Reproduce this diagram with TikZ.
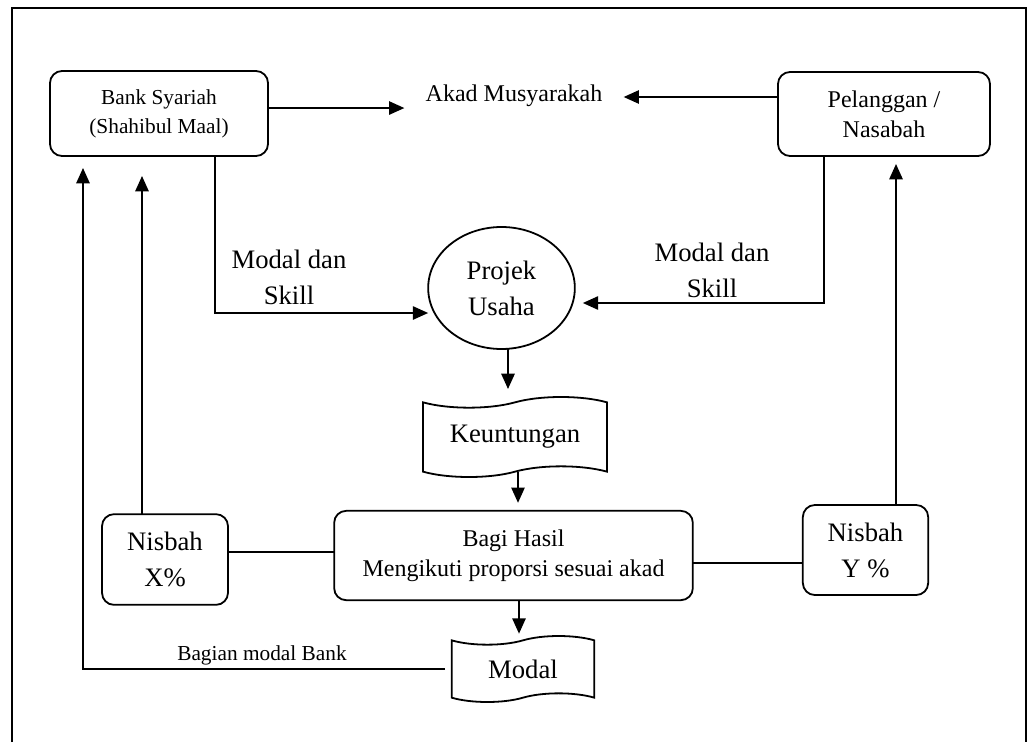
\documentclass[tikz,border=0pt]{standalone}
\usepackage{fontspec}
\setmainfont{Liberation Serif}
\usetikzlibrary{shapes.geometric,shapes.symbols,arrows.meta}

\begin{document}
\begin{tikzpicture}[x=0.75pt,y=-0.75pt,
  every node/.style={inner sep=0pt, outer sep=0pt},
  box/.style={draw, line width=1.35pt, rounded corners=9pt, align=center},
  tapebox/.style={draw, line width=1.35pt, tape, tape bend top=in and out,
    tape bend bottom=in and out, tape bend height=8pt, align=center},
  arr/.style={-{Triangle[length=11.5pt,width=10pt]}, line width=1.35pt},
  link/.style={line width=1.35pt},
  fsmall/.style={font=\fontsize{16}{21.75}\selectfont},
  fmid/.style={font=\fontsize{18}{22.5}\selectfont},
  fbig/.style={font=\fontsize{20}{27}\selectfont},
]
\useasboundingbox (0,0) rectangle (1030,742);

% outer frame (open at the bottom)
\draw[line width=1.1pt] (12,742) -- (12,8) -- (1026,8) -- (1026,742);

% parties and agreement
\node[box, fsmall, minimum width=163.5pt, minimum height=63.75pt] (bank) at (159,113.5) {Bank Syariah\\(Shahibul Maal)};
\node[box, fmid, minimum width=159pt, minimum height=63pt] (pel) at (884,114) {Pelanggan /\\Nasabah};
\node[fmid, inner xsep=16pt] (akad) at (514,96) {Akad Musyarakah};

% project and results
\node[draw, ellipse, line width=1.35pt, minimum width=110pt, minimum height=91.5pt, fbig, align=center] (proj) at (501.5,288) {Projek\\Usaha};
\node[tapebox, fbig, minimum width=138pt, minimum height=60pt] (keu) at (515,437) {Keuntungan};
\node[box, fmid, minimum width=269pt, minimum height=67pt] (bagi) at (513.5,555.5) {Bagi Hasil\\Mengikuti proporsi sesuai akad};
\node[box, fbig, minimum width=94.5pt, minimum height=68pt] (nx) at (165,559.5) {Nisbah\\X\%};
\node[box, fbig, minimum width=94pt, minimum height=67.5pt] (ny) at (865.5,550) {Nisbah\\Y \%};
\node[tapebox, fbig, minimum width=107pt, minimum height=49.5pt, tape bend height=6.5pt] (modal) at (523,669) {Modal};

% free labels
\node[fbig, align=center] (lblL) at (289,277) {Modal dan\\Skill};
\node[fbig, align=center] (lblR) at (712,270) {Modal dan\\Skill};
\node[fsmall] (lblB) at (262,655) {Bagian modal Bank};

% agreement arrows
\draw[arr] ([yshift=4.1pt]bank.east) -- ([yshift=4.1pt]bank.east -| akad.west);
\draw[arr] ([yshift=12.75pt]pel.west) -- ([yshift=12.75pt]pel.west -| akad.east);

% capital and skill into the project
\draw[arr] (bank.south -| 215,0) |- (proj.west |- 0,313);
\draw[arr, shorten >=6pt] (pel.south -| 824,0) |- (proj.east |- 0,303);

% flow down the middle
\draw[arr, shorten >=10pt] (proj.south -| 508,0) -- (keu.north -| 508,0);
\draw[arr, shorten >=6pt] (keu.south -| 518,0) -- (bagi.north -| 518,0);
\draw[arr, shorten >=5pt] (bagi.south -| 519,0) -- (modal.north -| 519,0);

% profit shares
\draw[link] (nx.east |- 0,552) -- (bagi.west |- 0,552);
\draw[link] (bagi.east |- 0,563) -- (ny.west |- 0,563);
\draw[arr, shorten >=15pt] (nx.north -| 142,0) -- (bank.south -| 142,0);
\draw[arr, shorten >=6pt] (ny.north -| 896,0) -- (pel.south -| 896,0);

% bank capital returned
\draw[arr, shorten <=5pt, shorten >=9pt] (modal.west) -| (bank.south -| 83,0);
\end{tikzpicture}
\end{document}
